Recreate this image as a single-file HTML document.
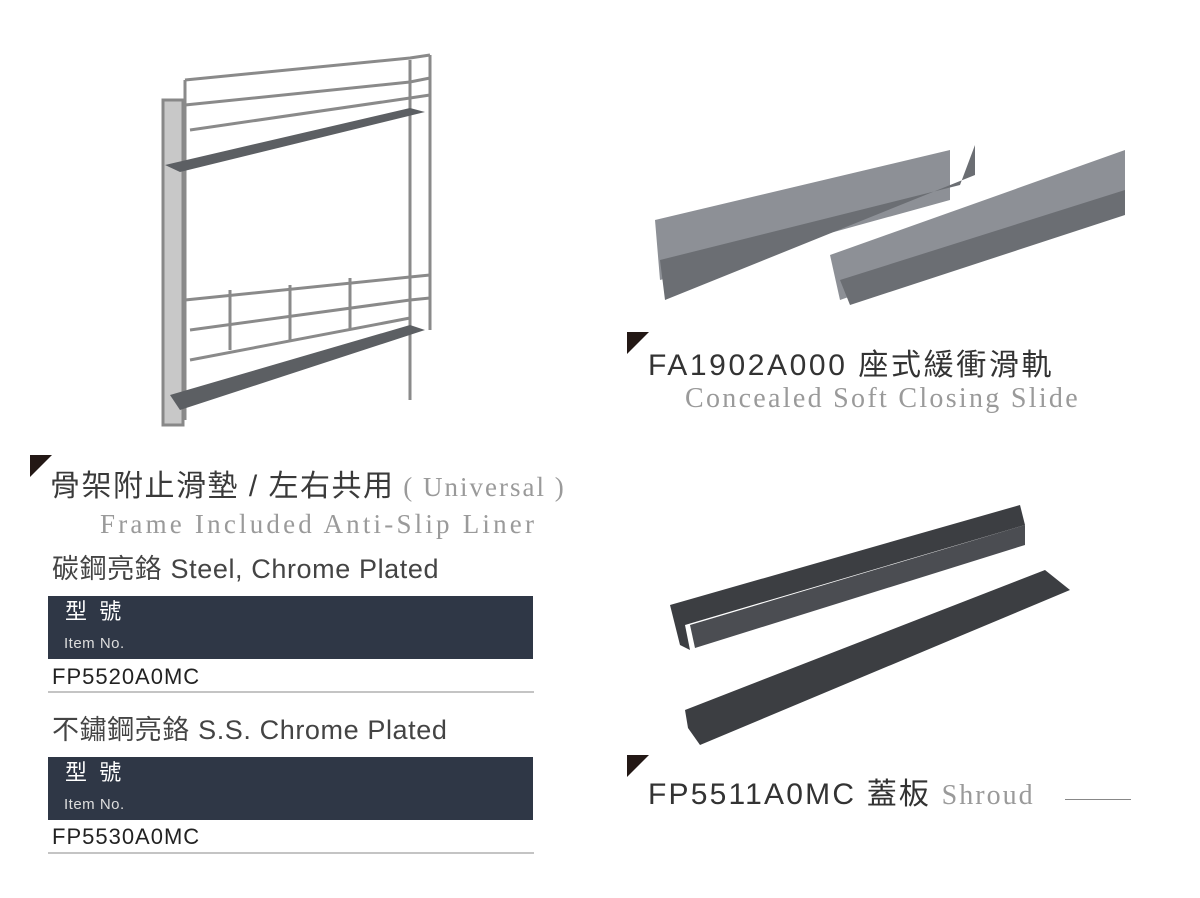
<!DOCTYPE html>
<html><head><meta charset="utf-8"><style>
body{margin:0;width:1200px;height:898px;background:#fff;position:relative;overflow:hidden;font-family:"Liberation Sans","Noto Sans CJK TC",sans-serif}
.a{position:absolute;white-space:nowrap;line-height:1}
.tri{position:absolute;width:0;height:0;border-top:22px solid #231815;border-right:22px solid transparent}
.ser{font-family:"Liberation Serif","Noto Serif CJK SC",serif;color:#9a9a9a}
.bar{position:absolute;left:48px;width:485px;height:63px;background:#2f3746;color:#fff}
.hl{position:absolute;left:48px;width:486px;height:2px;background:#c4c4c4}
</style></head><body>
<svg class="a" style="left:0;top:0" width="1200" height="898">
<g fill="none" stroke="#8a8a8a" stroke-width="3">
<rect x="163" y="100" width="20" height="325" fill="#c8c8c8" stroke="#888"/>
<line x1="185" y1="80" x2="185" y2="420"/><line x1="410" y1="60" x2="410" y2="400"/>
<line x1="430" y1="55" x2="430" y2="330"/>
<path d="M185 80 L410 58 L430 55"/><path d="M185 105 L410 82 L430 78"/><path d="M190 130 L410 98 L430 95"/>
<path d="M185 300 L410 277 L430 275"/><path d="M190 330 L410 300 L430 298"/><path d="M190 360 L410 318"/>
<path d="M230 290 L230 350 M290 285 L290 340 M350 278 L350 330"/>
</g>
<polygon points="165,165 410,108 425,112 180,172" fill="#5c5f63"/>
<polygon points="170,395 410,325 425,330 180,410" fill="#5c5f63"/>
<polygon points="655,220 950,150 950,200 660,280" fill="#8d9096"/>
<polygon points="660,260 960,185 975,145 975,175 665,300" fill="#6b6e73"/>
<polygon points="830,255 1125,150 1125,200 840,300" fill="#8d9096"/>
<polygon points="840,280 1125,190 1125,215 850,305" fill="#6b6e73"/>
<polygon points="670,605 1020,505 1025,525 685,625 690,650 680,645" fill="#3c3e42"/>
<polygon points="685,710 1045,570 1070,590 700,745 688,728" fill="#3c3e42"/>
<polygon points="690,625 1025,525 1025,545 695,648" fill="#4b4d52"/>
</svg>
<div class="tri" style="left:30px;top:455px"></div>
<div class="a" style="left:50px;top:472px;font-size:30px;color:#3a3a3a;letter-spacing:1.5px">骨架附止滑墊 / 左右共用<span class="ser" style="font-size:27px;letter-spacing:2px"> ( Universal )</span></div>
<div class="a ser" style="left:100px;top:511px;font-size:27px;letter-spacing:3.2px">Frame Included Anti-Slip Liner</div>
<div class="a" style="left:52px;top:556px;font-size:27px;color:#444;letter-spacing:0.6px">碳鋼亮鉻 Steel, Chrome Plated</div>
<div class="bar" style="top:596px"><div class="a" style="left:17px;top:5px;font-size:22px">型&nbsp;&nbsp;號</div><div class="a" style="left:16px;top:40px;font-size:15px;color:#ddd;letter-spacing:0.5px">Item No.</div></div>
<div class="a" style="left:52px;top:666px;font-size:22px;color:#222;letter-spacing:1px">FP5520A0MC</div>
<div class="hl" style="top:691px"></div>
<div class="a" style="left:52px;top:717px;font-size:27px;color:#444;letter-spacing:0.6px">不鏽鋼亮鉻 S.S. Chrome Plated</div>
<div class="bar" style="top:757px"><div class="a" style="left:17px;top:5px;font-size:22px">型&nbsp;&nbsp;號</div><div class="a" style="left:16px;top:40px;font-size:15px;color:#ddd;letter-spacing:0.5px">Item No.</div></div>
<div class="a" style="left:52px;top:826px;font-size:22px;color:#222;letter-spacing:1px">FP5530A0MC</div>
<div class="hl" style="top:852px"></div>
<div class="tri" style="left:627px;top:332px"></div>
<div class="a" style="left:648px;top:351px;font-size:30px;color:#333;letter-spacing:2.6px">FA1902A000 座式緩衝滑軌</div>
<div class="a ser" style="left:685px;top:385px;font-size:28px;letter-spacing:2.3px">Concealed Soft Closing Slide</div>
<div class="tri" style="left:627px;top:755px"></div>
<div class="a" style="left:648px;top:780px;font-size:30px;color:#333;letter-spacing:2.2px">FP5511A0MC 蓋板 <span class="ser" style="font-size:28px;letter-spacing:2px">Shroud</span></div>
<div class="a" style="left:1065px;top:799px;width:66px;height:1px;background:#888"></div>
</body></html>
